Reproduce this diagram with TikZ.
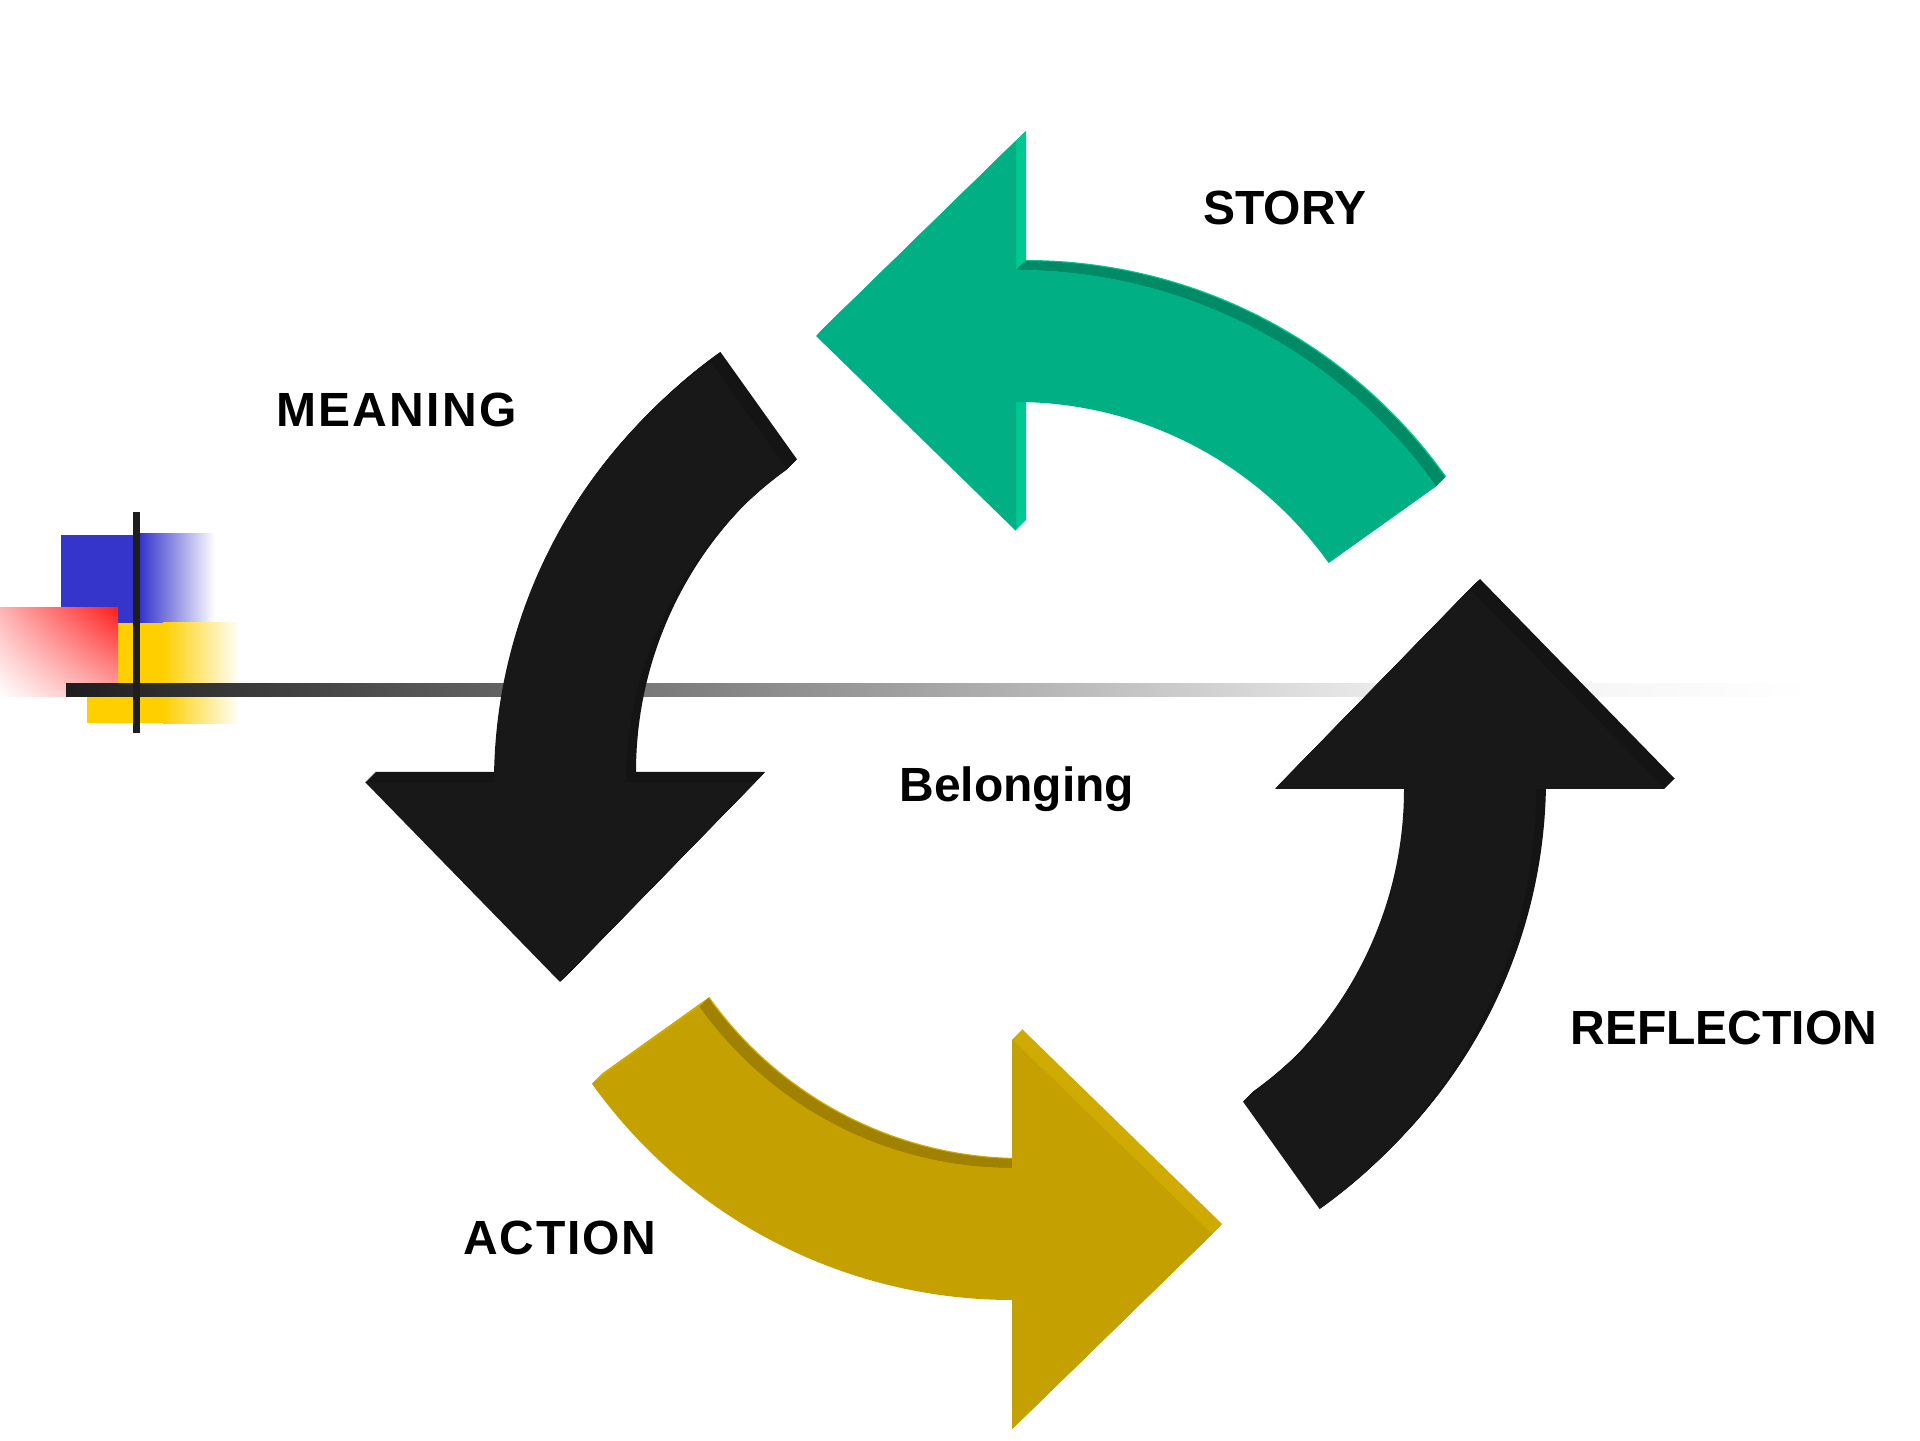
\documentclass[tikz,border=0pt]{standalone}
\usepackage{fontspec}
\usetikzlibrary{shadings}
\newfontfamily\labfont{Liberation Sans}
\definecolor{grnfront}{HTML}{00B084}
\definecolor{grnlight}{HTML}{00C890}
\definecolor{grndark}{HTML}{008A66}
\definecolor{gldfront}{HTML}{C4A000}
\definecolor{gldlight}{HTML}{CFAB00}
\definecolor{glddark}{HTML}{A08200}
\definecolor{blkfront}{HTML}{181818}
\definecolor{blkside}{HTML}{141414}
\definecolor{sqblue}{HTML}{3535CC}
\definecolor{sqyellow}{HTML}{FFCF00}
\definecolor{sqred}{HTML}{FF1E1E}
\definecolor{barcol}{HTML}{1E1E1E}
\definecolor{redpale}{HTML}{FFB4B4}
\definecolor{redpale2}{HTML}{FFACAC}
\definecolor{linegrey}{HTML}{EEEEEE}
\begin{document}
\begin{tikzpicture}[x=0.5pt,y=0.5pt,
  arrowshape/.style={insert path={(35.5:516) arc[start angle=35.5,end angle=90,radius=516]
      -- (0,645) -- (-200,450) -- (0,255) -- (0,384)
      arc[start angle=90,end angle=35.5,radius=384] -- cycle}},
  lbl/.style={anchor=base west, inner sep=0pt, font=\labfont\bfseries\fontsize{24pt}{28pt}\selectfont}]
\useasboundingbox (0,0) rectangle (1920,1440);
\fill[white] (0,0) rectangle (1920,1440);
% ---- decoration at left
\fill[sqblue] (61,817) rectangle (133,905);
\fill[sqyellow] (87,717) rectangle (163,817);
\shade[left color=sqblue, right color=white] (140,817) rectangle (215,906);
\shade[left color=sqyellow, right color=white] (163,716) rectangle (240,817);
\shade[upper right=sqred, upper left=redpale, lower right=redpale2, lower left=white]
       (0,743) rectangle (118,832);
\shade[left color=barcol, right color=linegrey] (66,743) rectangle (1400,756);
\shade[left color=linegrey, right color=white] (1400,743) rectangle (1810,756);
\fill[barcol] (133,707) rectangle (140,928);
% ---- centres of the four arrows
\coordinate (Cg) at (1016,654);
\coordinate (Cm) at (1010,658);
\coordinate (Ca) at (1012,656);
\coordinate (Cr) at (1020,651);
% ---- STORY arrow (green)
\foreach \s in {1,...,10} {\fill[grnlight, shift={(Cg)}, shift={(\s,\s)}, arrowshape];}
\fill[grndark, shift={(Cg)}] (35.5:516) arc[start angle=35.5,end angle=90,radius=516]
   -- ++(9,9) arc[start angle=90,end angle=35.5,radius=516] -- cycle;
\fill[grnfront, shift={(Cg)}, arrowshape];
% ---- MEANING arrow (black, left)
\foreach \s in {1,...,10} {\fill[blkside, shift={(Cm)}, shift={(\s,\s)}, rotate=90, arrowshape];}
\fill[blkfront, shift={(Cm)}, rotate=90, arrowshape];
% ---- ACTION arrow (gold)
\foreach \s in {1,...,10} {\fill[gldlight, shift={(Ca)}, shift={(\s,\s)}, rotate=180, arrowshape];}
\fill[glddark, shift={(Ca)}] (215.5:384) arc[start angle=215.5,end angle=270,radius=384]
   -- ++(9,9) arc[start angle=270,end angle=215.5,radius=384] -- cycle;
\fill[gldfront, shift={(Ca)}, rotate=180, arrowshape];
% ---- REFLECTION arrow (black, right)
\foreach \s in {1,...,10} {\fill[blkside, shift={(Cr)}, shift={(\s,\s)}, rotate=270, arrowshape];}
\fill[blkfront, shift={(Cr)}, rotate=270, arrowshape];
% ---- labels
\node[lbl] (story) at (1203,1215) {STORY};
\node[lbl] (meaning) at (276,1013) {\addfontfeature{LetterSpace=4.8}MEANING};
\node[lbl] (action) at (463,186) {\addfontfeature{LetterSpace=3.6}ACTION};
\node[lbl] (reflection) at (1570,395) {REFLECTION};
\node[lbl] (belonging) at (899,638) {Belonging};
\end{tikzpicture}
\end{document}
